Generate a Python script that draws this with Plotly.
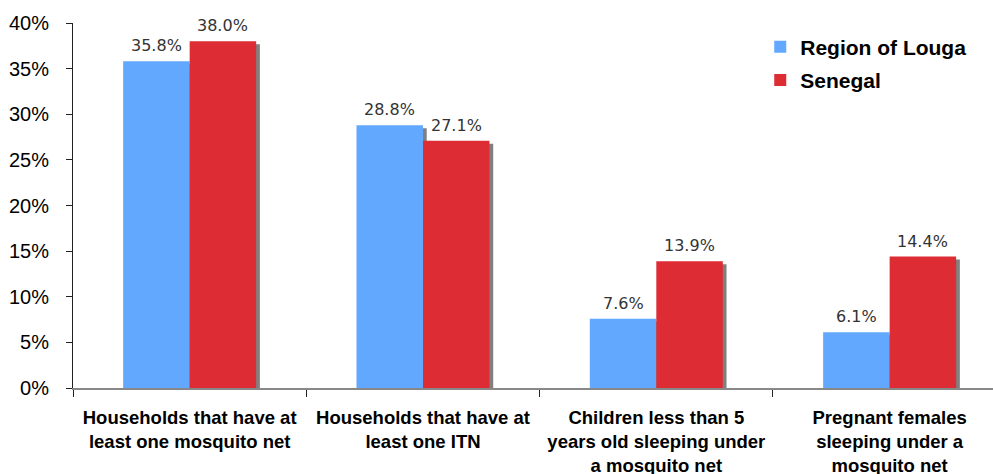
import plotly.graph_objects as go

# Mosquito net coverage indicators: Region of Louga vs. national figure
categories = [
    "Households that have at<br>least one mosquito net",
    "Households that have at<br>least one ITN",
    "Children less than 5<br>years old sleeping under<br>a mosquito net",
    "Pregnant females<br>sleeping under a<br>mosquito net",
]
louga = [35.8, 28.8, 7.6, 6.1]
senegal = [38.0, 27.1, 13.9, 14.4]
y_ticks = [0, 5, 10, 15, 20, 25, 30, 35, 40]
y_tick_text = [f"{v}%" for v in y_ticks]

BLUE = "#62A8FE"
RED = "#DD2C34"
SHADOW = "#808080"

BAR_W = 0.285          # bar width in category units
SH_DX = 0.016          # drop-shadow shift to the right (category units)
SH_DY = 0.33           # drop-shadow shift downward (percentage points)

x_idx = list(range(len(categories)))

fig = go.Figure()

# drop shadows first, so the bars sit on top of them
for vals, off in ((louga, -BAR_W), (senegal, 0.0)):
    fig.add_trace(go.Bar(
        x=x_idx, y=vals, base=[-SH_DY] * len(vals),
        width=BAR_W, offset=off + SH_DX,
        marker=dict(color=SHADOW, line=dict(width=0)),
        showlegend=False, hoverinfo="skip",
    ))

fig.add_trace(go.Bar(
    x=x_idx, y=louga, name="Region of Louga", legendgroup="louga",
    width=BAR_W, offset=-BAR_W,
    marker=dict(color=BLUE, line=dict(width=0)),
))
fig.add_trace(go.Bar(
    x=x_idx, y=senegal, name="Senegal", legendgroup="senegal",
    width=BAR_W, offset=0.0,
    marker=dict(color=RED, line=dict(width=0)),
))

# value labels above each bar
for vals, off in ((louga, -BAR_W), (senegal, 0.0)):
    for i, v in enumerate(vals):
        fig.add_annotation(
            x=i + off + BAR_W / 2, y=v, xref="x", yref="y",
            text=f"{v:.1f}%", showarrow=False,
            yanchor="bottom", xanchor="center", yshift=4,
            font=dict(family="DejaVu Sans", size=16, color="#333333"),
        )

fig.update_layout(
    width=993, height=474,
    margin=dict(l=73, r=0, t=23, b=86, autoexpand=False),
    paper_bgcolor="white", plot_bgcolor="white",
    barmode="overlay",
    font=dict(family="Liberation Sans, Arial, sans-serif", color="#000000"),
    legend=dict(
        x=0.747, y=0.99, xanchor="left", yanchor="top",
        font=dict(family="Liberation Sans, Arial, sans-serif", size=21,
                  weight="bold", color="#000000"),
        bgcolor="rgba(0,0,0,0)", tracegroupgap=3, traceorder="grouped",
    ),
    xaxis=dict(
        type="linear",
        automargin=False,
        range=[-0.5, 3.443],
        tickmode="array",
        tickvals=x_idx,
        ticktext=categories,
        ticks="",
        showline=True, linecolor="#888888", linewidth=2,
        showgrid=False, zeroline=False,
        tickfont=dict(family="Liberation Sans, Arial, sans-serif", size=18.5,
                      weight="bold", color="#000000"),
        ticklabelstandoff=12,
        minor=dict(tickmode="array", tickvals=[-0.5, 0.5, 1.5, 2.5, 3.5],
                   ticks="outside", ticklen=7, tickcolor="#222222",
                   tickwidth=1, showgrid=False),
    ),
    yaxis=dict(
        automargin=False,
        range=[0, 40],
        tickmode="array", tickvals=y_ticks, ticktext=y_tick_text,
        ticks="outside", ticklen=6, tickcolor="#222222",
        showline=True, linecolor="#222222", linewidth=1,
        showgrid=False, zeroline=False,
        tickfont=dict(family="Liberation Sans, Arial, sans-serif", size=20,
                      color="#000000"),
        ticklabelstandoff=13,
    ),
)

fig.write_html("out.html")
